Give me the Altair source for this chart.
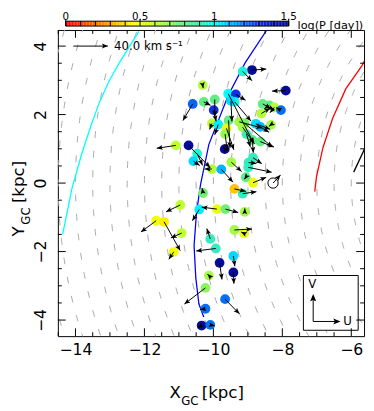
import altair as alt
import pandas as pd
import numpy as np

# ---------------- star data (X, Y in kpc; U, V in km/s; log P in days) ----------------
X = [-8.88, -9.15, -10.31, -7.90, -10.60, -10.28, -9.96, -9.99, -9.57, -9.35,
     -9.38, -9.49, -8.57, -8.38, -8.23, -8.04, -8.61, -10.04, -9.86, -9.56,
     -9.62, -9.25, -9.09, -8.77, -8.64, -8.33, -9.66, -9.15, -9.04, -8.87,
     -8.64, -10.72, -9.67, -10.47, -10.58, -10.04, -9.77, -9.48, -8.85, -8.98,
     -8.99, -9.06, -8.85, -9.39, -9.15, -10.30, -10.41, -9.90, -9.65, -9.09,
     -9.39, -9.11, -10.09, -9.93, -9.42, -9.82, -9.42, -10.13, -10.23, -9.66,
     -10.23, -10.34, -10.09, -10.96, -11.66, -11.43, -10.92, -11.15, -11.09]
Y = [3.30, 3.26, 2.86, 2.70, 2.31, 2.37, 2.44, 2.13, 2.61, 2.59,
     2.37, 2.40, 2.31, 2.27, 2.21, 2.13, 2.03, 1.74, 1.71, 1.83,
     1.60, 1.79, 1.74, 1.73, 1.64, 1.70, 1.43, 1.63, 1.43, 1.26,
     1.21, 1.10, 0.99, 0.86, 0.64, 0.41, 0.40, 0.61, 0.74, 0.60,
     0.46, 0.17, 0.01, -0.17, -0.31, -0.29, -0.77, -0.76, -0.76, -0.84,
     -1.37, -1.47, -1.63, -1.91, -2.13, -2.33, -2.61, -2.70, -3.06, -3.39,
     -3.67, -4.16, -4.14, -0.64, -1.10, -1.13, -1.46, -2.01, 1.10]
U = [16.5, 10.8, 0.6, -15.9, -11.3, 7.9, 0.0, 2.8, 29.5, 11.3,
     18.7, 1.1, 13.1, -5.7, -5.1, -5.7, 10.2, -2.8, -4.0, 1.7,
     8.5, 26.7, 31.8, 16.5, 10.2, -2.3, 2.3, 13.6, 4.5, 1.1,
     15.9, 25.0, -1.7, 6.2, 7.4, -8.5, 13.6, 11.9, 10.2, 9.1,
     27.2, -1.7, 15.3, 13.1, 15.9, -1.1, -7.9, -17.6, 14.8, 0.0,
     20.4, -3.4, -4.0, -22.7, 1.7, 2.8, 0.6, -1.7, -24.4, 16.5,
     -6.2, -4.5, 5.1, -16.5, -17.6, 18.7, -12.5, -5.7, -22.1]
V = [1.1, -10.9, -3.4, -0.6, -19.4, -4.0, -20.0, -13.1, -57.7, -6.9,
     -22.3, -24.0, -6.9, -4.0, -6.3, 2.9, 6.3, -6.9, -12.0, -32.0,
     -25.1, -7.4, -27.4, -6.3, -6.3, -1.7, -18.3, -19.4, -14.9, -14.9,
     -6.3, -25.7, 2.9, -13.7, -5.1, 0.0, -14.9, -10.9, -6.9, -1.1,
     -5.7, -2.3, 6.3, -2.9, 2.3, 5.7, -13.1, 2.3, -4.0, 4.0,
     1.1, 1.7, 12.0, -2.9, -12.0, -19.4, -13.1, 1.7, -18.9, -17.1,
     -1.1, -2.9, -1.1, -8.0, -13.1, -33.7, -5.7, -8.6, -3.4]
logP = [1.45, 0.95, 0.62, 1.45, 1.22, 0.80, 0.80, 1.30, 1.00, 1.30,
        0.95, 1.05, 0.80, 0.80, 0.62, 1.20, 0.62, 0.60, 1.02, 0.80,
        0.50, 0.65, 0.75, 1.05, 1.10, 0.65, 0.68, 0.65, 0.90, 0.80,
        0.80, 1.45, 1.45, 0.95, 1.05, 0.62, 1.10, 0.65, 0.92, 0.92,
        0.92, 0.80, 0.50, 0.35, 0.92, 0.75, 1.02, 0.50, 0.75, 0.65,
        0.65, 0.50, 0.92, 0.92, 1.05, 1.45, 1.45, 0.65, 0.70, 1.20,
        1.20, 1.45, 1.20, 0.60, 0.48, 0.42, 0.60, 0.48, 0.60]

# Sun and its motion, scale arrow
sun_X, sun_Y, sun_U, sun_V = -8.27, 0.0, 8.7, 9.5
scale_X, scale_Y, scale_U, scale_V = -14.06, 4.0, 40.0, 0.0

# spiral arm traces
cyan_x = [-14.37, -14.10, -13.82, -13.54, -13.30, -13.02, -12.73, -12.16]
cyan_y = [-1.49, -0.15, 0.85, 1.71, 2.37, 2.99, 3.51, 4.43]
blue_x = [-8.45, -9.08, -9.57, -10.13, -10.37, -10.49, -10.56, -10.51, -10.42, -10.28]
blue_y = [4.47, 3.51, 2.56, 1.13, -0.03, -0.87, -1.82, -2.77, -3.53, -3.91]
red_x = [-5.55, -5.69, -6.16, -6.54, -6.82, -7.01, -7.06]
red_y = [3.70, 3.43, 2.75, 1.89, 1.04, 0.18, -0.25]
blk_x = [-5.93, -5.60]
blk_y = [0.32, 1.03]

# Galactocentric dashed circles
radii = [6.0 + 0.5 * i for i in range(19)]

# ticks
x_major = [-14, -12, -10, -8, -6]
x_minor = [-14.5, -13.5, -13, -12.5, -11.5, -11, -10.5, -9.5, -9, -8.5, -7.5, -7, -6.5]
y_major = [-4, -2, 0, 2, 4]
y_minor = [-3.5, -3, -2.5, -1.5, -1, -0.5, 0.5, 1, 1.5, 2.5, 3, 3.5]

# colour bar
cb_major = [0.0, 0.5, 1.0, 1.5]
cb_labels = ["0", "0.5", "1", "1.5"]
cb_minor = [0.1, 0.2, 0.3, 0.4, 0.6, 0.7, 0.8, 0.9, 1.1, 1.2, 1.3, 1.4]
cmap_stops = [0.0, 0.15, 0.3, 0.45, 0.6, 0.75, 0.9, 1.0, 1.15, 1.3, 1.5]
cmap_colors = ["#ff0000", "#ff5a00", "#ffa500", "#ffff00", "#c0ff30", "#70f070",
               "#40e8b0", "#00ffff", "#0090ff", "#1030e0", "#000080"]

# ---------------- build ----------------
W, H = 313, 313
FONT = "DejaVu Sans"
xs = alt.Scale(domain=[-14.51, -5.63], nice=False, zero=False)
ys = alt.Scale(domain=[-4.47, 4.47], nice=False, zero=False)
XAX = alt.Axis(values=x_major, ticks=False, domain=False, grid=False, title=None,
               labelFontSize=16, labelFont=FONT, labelColor="black", labelPadding=6,
               labelFlush=False, format="d")
YAX = alt.Axis(values=y_major, ticks=False, domain=False, grid=False, title=None,
               labelFontSize=16, labelFont=FONT, labelColor="black", labelPadding=10,
               labelFlush=False, labelAngle=270, labelAlign="center",
               labelBaseline="bottom", format="d")
cscale = alt.Scale(domain=cmap_stops, range=cmap_colors, interpolate="rgb")


def xq(f):
    return alt.X(f, type="quantitative", scale=xs, axis=XAX)


def yq(f):
    return alt.Y(f, type="quantitative", scale=ys, axis=YAX)


stars = pd.DataFrame({"X": X, "Y": Y, "U": U, "V": V, "logP": logP})
arrows = pd.concat([
    stars[["X", "Y", "U", "V"]],
    pd.DataFrame({"X": [sun_X, scale_X], "Y": [sun_Y, scale_Y],
                  "U": [sun_U, scale_U], "V": [sun_V, scale_V]})
], ignore_index=True)

rows = []
for r in radii:
    for t in np.arange(130.0, 230.01, 0.5):
        rows.append({"r": r, "t": t,
                     "cx": r * np.cos(np.radians(t)), "cy": r * np.sin(np.radians(t))})
circ = pd.DataFrame(rows)

one = pd.DataFrame({"a": [0]})

circles = alt.Chart(circ).mark_line(stroke="#a9a9a9", strokeWidth=1, strokeDash=[7, 13],
                                     clip=True).encode(
    x=xq("cx"), y=yq("cy"), detail="r:N", order="t:Q")


def arm(xv, yv, col, w=1.3):
    d = pd.DataFrame({"ax": xv, "ay": yv, "i": list(range(len(xv)))})
    return alt.Chart(d).mark_line(color=col, strokeWidth=w, clip=True).encode(
        x=xq("ax"), y=yq("ay"), order="i:Q")


arms = [arm(cyan_x, cyan_y, "#00ffff"), arm(blue_x, blue_y, "#0000ff"),
        arm(red_x, red_y, "#ff0000"), arm(blk_x, blk_y, "black")]

pts = alt.Chart(stars).mark_circle(size=100, opacity=1).encode(
    x=xq("X"), y=yq("Y"), color=alt.Color("logP:Q", scale=cscale, legend=None))

HEAD = "M0,0 L-0.42,1 L0,0.8 L0.42,1 Z"
abase = alt.Chart(arrows).transform_calculate(
    ex="datum.X + datum.U/40", ey="datum.Y + datum.V/40",
    ang="(atan2(datum.U, datum.V)*180/PI + 360) % 360")
shafts = abase.mark_rule(color="black", strokeWidth=1).encode(
    x=xq("X"), y=yq("Y"), x2="ex:Q", y2="ey:Q")
heads = abase.mark_point(shape=HEAD, filled=True, size=144, color="black",
                         opacity=1, strokeWidth=0).encode(
    x=xq("ex"), y=yq("ey"), angle=alt.Angle("ang:Q", scale=None))

sun = alt.Chart(pd.DataFrame({"sx": [sun_X], "sy": [sun_Y]})).mark_point(
    shape="circle", filled=False, size=110, color="black", strokeWidth=1, opacity=1).encode(
    x=xq("sx"), y=yq("sy"))

scale_txt = alt.Chart(pd.DataFrame({"tx": [-12.88], "ty": [scale_Y]})).mark_text(
    text="40.0 km s\u207b\u00b9", font=FONT, fontSize=12, align="left",
    baseline="middle", color="black").encode(x=xq("tx"), y=yq("ty"))

# UV box
box = alt.Chart(one).mark_rect(fill="white", stroke="black", strokeWidth=1).encode(
    x=alt.value(251), x2=alt.value(307), y=alt.value(251), y2=alt.value(307))
uv_rules = [
    alt.Chart(one).mark_rule(color="black", strokeWidth=1).encode(
        x=alt.value(261), x2=alt.value(261), y=alt.value(298), y2=alt.value(272)),
    alt.Chart(one).mark_rule(color="black", strokeWidth=1).encode(
        x=alt.value(261), x2=alt.value(287), y=alt.value(298), y2=alt.value(298)),
]
uv_heads = [
    alt.Chart(one).mark_point(shape=HEAD, filled=True, size=220, color="black",
                              opacity=1, strokeWidth=0).encode(
        x=alt.value(261), y=alt.value(270), angle=alt.value(0)),
    alt.Chart(one).mark_point(shape=HEAD, filled=True, size=220, color="black",
                              opacity=1, strokeWidth=0).encode(
        x=alt.value(289), y=alt.value(298), angle=alt.value(90)),
]
uv_txt = [
    alt.Chart(one).mark_text(text="V", font=FONT, fontSize=12, color="black",
                             align="center", baseline="middle").encode(
        x=alt.value(260), y=alt.value(260)),
    alt.Chart(one).mark_text(text="U", font=FONT, fontSize=12, color="black",
                             align="center", baseline="middle").encode(
        x=alt.value(296), y=alt.value(298)),
]

# inward ticks on all four sides
def xticks(vals, L):
    d = pd.DataFrame({"tv": vals})
    return [alt.Chart(d).mark_rule(color="black", strokeWidth=1).encode(
                x=xq("tv"), y=alt.value(H), y2=alt.value(H - L)),
            alt.Chart(d).mark_rule(color="black", strokeWidth=1).encode(
                x=xq("tv"), y=alt.value(0), y2=alt.value(L))]


def yticks(vals, L):
    d = pd.DataFrame({"tv": vals})
    return [alt.Chart(d).mark_rule(color="black", strokeWidth=1).encode(
                y=yq("tv"), x=alt.value(0), x2=alt.value(L)),
            alt.Chart(d).mark_rule(color="black", strokeWidth=1).encode(
                y=yq("tv"), x=alt.value(W), x2=alt.value(W - L))]


ticks = xticks(x_major, 8) + xticks(x_minor, 4) + yticks(y_major, 8) + yticks(y_minor, 4)

# axis titles with subscripts
def txt(s, x, y, size, angle=0):
    kw = dict(text=s, font=FONT, fontSize=size, color="black", align="left",
              baseline="alphabetic")
    if angle:
        kw["angle"] = angle
    return alt.Chart(one).mark_text(**kw).encode(x=alt.value(x), y=alt.value(y))


titles = [
    txt("X", 114, 376, 17), txt("GC", 126, 383, 12), txt("[kpc]", 147, 376, 17),
    txt("Y", -35, 211, 17, 270), txt("GC", -29, 199, 12, 270), txt("[kpc]", -35, 177, 17, 270),
]

main = alt.layer(circles, *arms, pts, shafts, heads, sun, scale_txt, box,
                 *uv_rules, *uv_heads, *uv_txt, *ticks, *titles)

# colour bar (above the frame)
cb_scale = alt.Scale(domain=[0, 1.5], range=[8, 236], nice=False, zero=False)
cbv = np.round(np.arange(0, 1.5, 0.01), 2)
cbd = pd.DataFrame({"logP": cbv, "v2": cbv + 0.0105})
CB_TOP, CB_BOT = -9, -4
cb_rect = alt.Chart(cbd).mark_rect(strokeWidth=0).encode(
    x=alt.X("logP:Q", scale=cb_scale, axis=None), x2="v2:Q",
    y=alt.value(CB_TOP), y2=alt.value(CB_BOT),
    color=alt.Color("logP:Q", scale=cscale, legend=None))
cb_border = alt.Chart(pd.DataFrame({"b0": [0.0], "b1": [1.5]})).mark_rect(
    fillOpacity=0, stroke="black", strokeWidth=1).encode(
    x=alt.X("b0:Q", scale=cb_scale, axis=None), x2="b1:Q",
    y=alt.value(CB_TOP), y2=alt.value(CB_BOT))
cb_min = alt.Chart(pd.DataFrame({"c": cb_minor})).mark_rule(color="black", strokeWidth=1).encode(
    x=alt.X("c:Q", scale=cb_scale, axis=None), y=alt.value(CB_TOP), y2=alt.value(CB_BOT))
cb_maj = alt.Chart(pd.DataFrame({"c": cb_major})).mark_rule(color="black", strokeWidth=1).encode(
    x=alt.X("c:Q", scale=cb_scale, axis=None), y=alt.value(CB_TOP - 2), y2=alt.value(CB_BOT))
cb_lab = alt.Chart(pd.DataFrame({"c": cb_major, "lab": cb_labels})).mark_text(
    font=FONT, fontSize=10.5, color="black", baseline="alphabetic", align="center").encode(
    x=alt.X("c:Q", scale=cb_scale, axis=None), y=alt.value(-10), text="lab:N")
cb_title = alt.Chart(one).mark_text(text="log(P [day])", font=FONT, fontSize=11.5,
                                    color="black", align="left", baseline="middle").encode(
    x=alt.value(245), y=alt.value(-4))

cbar = alt.layer(cb_rect, cb_border, cb_min, cb_maj, cb_lab, cb_title)

chart = alt.layer(main, cbar).resolve_scale(x="independent").properties(
    width=W, height=H, autosize=alt.AutoSizeParams(type="none"),
    padding={"left": 51, "top": 18, "right": 2, "bottom": 70},
).configure_view(stroke="black", strokeWidth=1)

chart.save("out.html", embed_options={"renderer": "svg", "actions": False})
